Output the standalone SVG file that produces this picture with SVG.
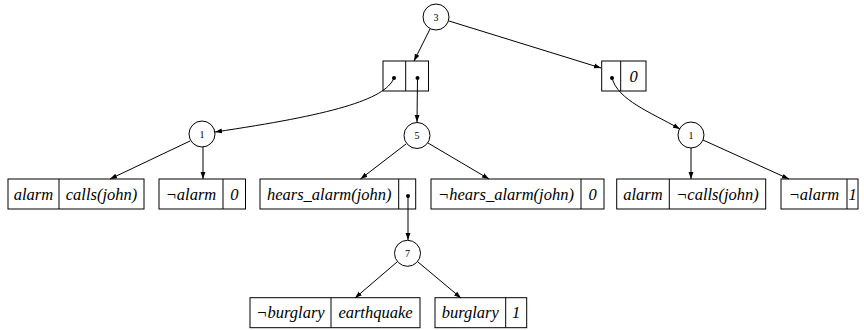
<svg xmlns="http://www.w3.org/2000/svg" width="864" height="330" viewBox="0 0 864 330">
<style>
.b{fill:#fff;stroke:#000;stroke-width:1}
.c{fill:#fff;stroke:#000;stroke-width:1}
.t{font-family:"Liberation Serif","DejaVu Serif","Times New Roman",serif;font-style:italic;font-size:16.5px;text-anchor:middle}
.n{font-family:"Liberation Serif","DejaVu Serif","Times New Roman",serif;font-size:10px;text-anchor:middle}
.e{fill:none;stroke:#000;stroke-width:1}
.d{fill:#000}
</style>
<defs>
<marker id="a" viewBox="0 0 10 10" refX="10" refY="5" markerWidth="7" markerHeight="7" orient="auto" markerUnits="userSpaceOnUse">
<path d="M0,1.5 L10,5 L0,8.5 Z" fill="#000"/>
</marker>
</defs>
<rect width="864" height="330" fill="#fff"/>
<g id="n3"><circle class="c" cx="436" cy="17" r="13"/><text class="n" x="436" y="20.5" font-family="Liberation Serif, serif">3</text></g>
<g id="r1"><rect class="b" x="383" y="61" width="45.5" height="30"/><line class="e" x1="405.7" y1="61" x2="405.7" y2="91"/><circle class="d" cx="394" cy="78" r="2"/><circle class="d" cx="417.5" cy="78" r="2"/></g>
<g id="r2"><rect class="b" x="601.7" y="61" width="44.3" height="30"/><line class="e" x1="620.7" y1="61" x2="620.7" y2="91"/><circle class="d" cx="612" cy="78" r="2"/><text class="t" x="633.5" y="82" font-family="Liberation Serif, serif">0</text></g>
<g id="n1a"><circle class="c" cx="202" cy="134" r="13"/><text class="n" x="202" y="137.5" font-family="Liberation Serif, serif">1</text></g>
<g id="n5"><circle class="c" cx="417" cy="135.5" r="13"/><text class="n" x="417" y="139" font-family="Liberation Serif, serif">5</text></g>
<g id="n1b"><circle class="c" cx="691" cy="135" r="13"/><text class="n" x="691" y="138.5" font-family="Liberation Serif, serif">1</text></g>
<g id="l1"><rect class="b" x="8" y="179" width="136" height="30"/><line class="e" x1="59" y1="179" x2="59" y2="209"/><text class="t" x="33.5" y="199.5" font-family="Liberation Serif, serif">alarm</text><text class="t" x="101.5" y="199.5" font-family="Liberation Serif, serif">calls(john)</text></g>
<g id="l2"><rect class="b" x="159" y="179" width="86.5" height="30"/><line class="e" x1="223" y1="179" x2="223" y2="209"/><text class="t" x="191" y="199.5" font-family="Liberation Serif, serif">¬alarm</text><text class="t" x="234.3" y="199.5" font-family="Liberation Serif, serif">0</text></g>
<g id="l3"><rect class="b" x="260" y="179" width="155.7" height="30"/><line class="e" x1="398.7" y1="179" x2="398.7" y2="209"/><text class="t" x="329.3" y="199.5" font-family="Liberation Serif, serif">hears_alarm(john)</text><circle class="d" cx="408" cy="196" r="2"/></g>
<g id="l4"><rect class="b" x="431" y="179" width="173" height="30"/><line class="e" x1="581" y1="179" x2="581" y2="209"/><text class="t" x="506" y="199.5" font-family="Liberation Serif, serif">¬hears_alarm(john)</text><text class="t" x="592.5" y="199.5" font-family="Liberation Serif, serif">0</text></g>
<g id="l5"><rect class="b" x="616.7" y="179" width="149" height="30"/><line class="e" x1="669.3" y1="179" x2="669.3" y2="209"/><text class="t" x="643" y="199.5" font-family="Liberation Serif, serif">alarm</text><text class="t" x="717.5" y="199.5" font-family="Liberation Serif, serif">¬calls(john)</text></g>
<g id="l6"><rect class="b" x="781" y="179" width="77" height="30"/><line class="e" x1="847" y1="179" x2="847" y2="209"/><text class="t" x="814" y="199.5" font-family="Liberation Serif, serif">¬alarm</text><text class="t" x="852.5" y="199.5" font-family="Liberation Serif, serif">1</text></g>
<g id="n7"><circle class="c" cx="407.5" cy="253.3" r="13"/><text class="n" x="407.5" y="256.8" font-family="Liberation Serif, serif">7</text></g>
<g id="l7"><rect class="b" x="250" y="297.7" width="170" height="30"/><line class="e" x1="331" y1="297.7" x2="331" y2="327.7"/><text class="t" x="290.5" y="318" font-family="Liberation Serif, serif">¬burglary</text><text class="t" x="375.5" y="318" font-family="Liberation Serif, serif">earthquake</text></g>
<g id="l8"><rect class="b" x="435" y="297.7" width="91.7" height="30"/><line class="e" x1="505.7" y1="297.7" x2="505.7" y2="327.7"/><text class="t" x="470.3" y="318" font-family="Liberation Serif, serif">burglary</text><text class="t" x="516.2" y="318" font-family="Liberation Serif, serif">1</text></g>
<g id="connectors">
<line class="e" x1="430" y1="29" x2="414" y2="61" marker-end="url(#a)"/>
<line class="e" x1="449" y1="21" x2="601" y2="68" marker-end="url(#a)"/>
<path class="e" d="M394,78 C385,100 330,115 215,132" marker-end="url(#a)"/>
<line class="e" x1="417.5" y1="78" x2="417" y2="122" marker-end="url(#a)"/>
<path class="e" d="M612,78 C618,100 650,112 680,129" marker-end="url(#a)"/>
<line class="e" x1="190" y1="141" x2="110" y2="179" marker-end="url(#a)"/>
<line class="e" x1="203" y1="147" x2="203" y2="179" marker-end="url(#a)"/>
<line class="e" x1="406" y1="144" x2="360.5" y2="179" marker-end="url(#a)"/>
<line class="e" x1="428" y1="143" x2="489" y2="179" marker-end="url(#a)"/>
<line class="e" x1="691" y1="148" x2="691" y2="179" marker-end="url(#a)"/>
<line class="e" x1="703" y1="140" x2="789" y2="179" marker-end="url(#a)"/>
<line class="e" x1="408" y1="196" x2="408" y2="240" marker-end="url(#a)"/>
<line class="e" x1="397" y1="262" x2="355" y2="298" marker-end="url(#a)"/>
<line class="e" x1="418" y1="262" x2="461" y2="298" marker-end="url(#a)"/>
</g>
</svg>
